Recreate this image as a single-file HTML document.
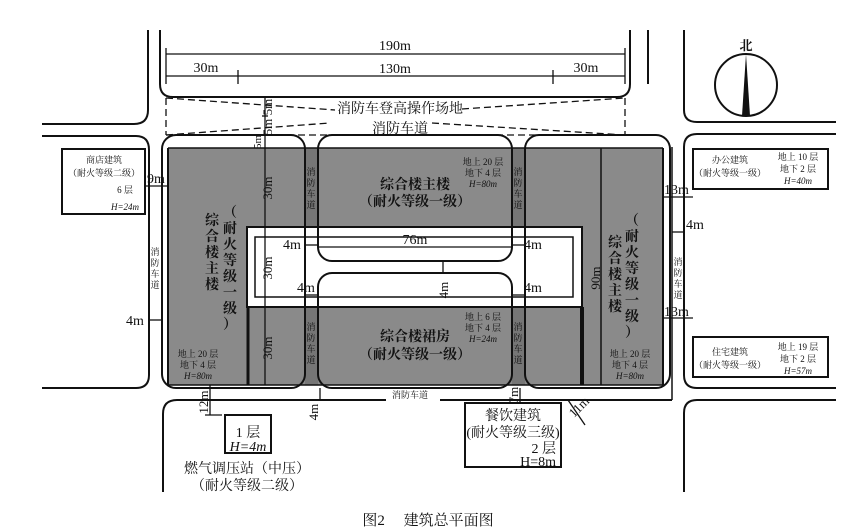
<!DOCTYPE html>
<html><head><meta charset="utf-8"><style>
html,body{margin:0;padding:0;background:#fff}
svg{display:block}
text{font-family:"Liberation Serif","Noto Serif CJK SC","Noto Sans CJK SC",serif;fill:#111}
.s{font-family:"Liberation Sans","Noto Sans CJK SC",sans-serif}
</style></head><body>
<svg width="856" height="528" viewBox="0 0 856 528" xmlns="http://www.w3.org/2000/svg">
<g fill="none" stroke="#111" stroke-width="2">
<path d="M148 30 V110 Q148 124 134 124 H42"/>
<path d="M42 136 H136 Q149 136 149 150 V375 Q149 388 136 388 H42"/>
<path d="M160 30 V84 Q160 97 173 97 H617 Q630 97 630 84 V30"/>
<path d="M648 30 V84"/>
<path d="M684 30 V110 Q684 122 697 122 H836"/>
<path d="M836 134 H697 Q684 134 684 147 V375 Q684 388 697 388 H836"/>
<path d="M836 400 H697 Q684 400 684 413 V492"/>
<path d="M163 492 V414 Q163 400 177 400 H386"/>
<path d="M440 400 H672"/>
<path d="M672 147 V400" stroke-width="1.5"/>
</g>
<rect x="168" y="148" width="495" height="237" fill="#8a8a8a"/>
<rect x="305" y="148" width="13" height="237" fill="#767676"/>
<rect x="512" y="148" width="13" height="237" fill="#767676"/>
<rect x="247" y="227" width="335" height="80" fill="#fff" stroke="#111" stroke-width="2"/>
<rect x="255" y="237" width="318" height="60" fill="#fff" stroke="#111" stroke-width="1.5"/>
<g fill="none" stroke="#111" stroke-width="2">
<rect x="162" y="135" width="143" height="253" rx="14"/>
<rect x="318" y="135" width="194" height="126" rx="14"/>
<rect x="318" y="273" width="194" height="115" rx="14"/>
<rect x="525" y="135" width="145" height="253" rx="14"/>
<line x1="168" y1="148" x2="663" y2="148" stroke-width="1.5"/>
<line x1="168" y1="385" x2="663" y2="385" stroke-width="1.5"/>
<line x1="601" y1="148" x2="601" y2="385" stroke-width="1.5"/>
<line x1="582" y1="307" x2="582" y2="385" stroke-width="4"/>
<line x1="248" y1="307" x2="248" y2="385" stroke-width="3"/>
<line x1="168" y1="148" x2="168" y2="385"/>
<line x1="663" y1="148" x2="663" y2="385"/>
</g>
<g stroke="#111" stroke-width="1.3" fill="none">
<line x1="166" y1="54" x2="625" y2="54"/>
<line x1="166" y1="76" x2="625" y2="76"/>
<line x1="166" y1="48" x2="166" y2="84"/><line x1="625" y1="48" x2="625" y2="84"/>
<line x1="238" y1="70" x2="238" y2="84"/><line x1="553" y1="70" x2="553" y2="84"/>
<g stroke-dasharray="7,4">
<line x1="166" y1="98" x2="166" y2="135"/><line x1="625" y1="98" x2="625" y2="135"/>
<polyline points="166,98 335,110"/><polyline points="462,109 625,98"/>
<polyline points="166,135 330,123"/><polyline points="432,123 625,135"/>
<line x1="166" y1="135" x2="625" y2="135"/>
</g>
<line x1="265" y1="97" x2="265" y2="385"/>
<line x1="262" y1="116" x2="268" y2="116"/>
<line x1="168" y1="186" x2="145" y2="186"/>
<line x1="150" y1="320" x2="162" y2="320"/>
<line x1="210" y1="385" x2="210" y2="415"/><line x1="205" y1="415" x2="222" y2="415"/>
<line x1="320" y1="388" x2="320" y2="400"/>
<line x1="520" y1="388" x2="520" y2="403"/>
<line x1="663" y1="197" x2="693" y2="197"/>
<line x1="663" y1="318" x2="693" y2="318"/>
<line x1="672" y1="232" x2="684" y2="232"/>
<line x1="318" y1="247" x2="512" y2="247"/>
<line x1="305" y1="245" x2="318" y2="245"/>
<line x1="512" y1="245" x2="525" y2="245"/>
<line x1="305" y1="295" x2="318" y2="295"/>
<line x1="512" y1="295" x2="525" y2="295"/>
<line x1="443" y1="261" x2="443" y2="273"/>
<line x1="568" y1="400" x2="585" y2="425"/>
</g>
<circle cx="746" cy="85" r="31" fill="#fff" stroke="#111" stroke-width="2"/>
<polygon points="746,54 742,116 750,116" fill="#111"/>
<text x="746" y="50" font-size="13" text-anchor="middle" font-weight="bold">北</text>
<g fill="#fff" stroke="#111" stroke-width="2">
<rect x="62" y="149" width="83" height="65"/>
<rect x="693" y="149" width="135" height="40"/>
<rect x="693" y="337" width="135" height="40"/>
<rect x="225" y="415" width="46" height="38"/>
<rect x="465" y="403" width="96" height="64"/>
</g>
<g font-size="14">
<text x="395" y="50" text-anchor="middle">190m</text>
<text x="206" y="72" text-anchor="middle">30m</text>
<text x="395" y="73" text-anchor="middle">130m</text>
<text x="586" y="72" text-anchor="middle">30m</text>
<text x="400" y="113" text-anchor="middle">消防车登高操作场地</text>
<text x="400" y="133" text-anchor="middle">消防车道</text>
<text x="147" y="183">9m</text>
<text x="126" y="325">4m</text>
<text x="283" y="249">4m</text>
<text x="524" y="249">4m</text>
<text x="297" y="292">4m</text>
<text x="524" y="292">4m</text>
<text x="415" y="244" text-anchor="middle">76m</text>
<text x="664" y="194">13m</text>
<text x="686" y="229">4m</text>
<text x="664" y="316">13m</text>
<text x="415" y="189" text-anchor="middle" font-weight="bold">综合楼主楼</text>
<text x="415" y="206" text-anchor="middle" font-weight="bold">（耐火等级一级）</text>
<text x="415" y="341" text-anchor="middle" font-weight="bold">综合楼裙房</text>
<text x="415" y="359" text-anchor="middle" font-weight="bold">（耐火等级一级）</text>
<text x="248" y="437" text-anchor="middle">1 层</text>
<text x="248" y="451" text-anchor="middle" font-style="italic">H=4m</text>
<text x="247" y="473" text-anchor="middle">燃气调压站（中压）</text>
<text x="247" y="490" text-anchor="middle">（耐火等级二级）</text>
<text x="513" y="420" text-anchor="middle">餐饮建筑</text>
<text x="513" y="437" text-anchor="middle">(耐火等级三级)</text>
<text x="556" y="453" text-anchor="end">2 层</text>
<text x="556" y="466" text-anchor="end">H=8m</text>
<text x="428" y="525" text-anchor="middle" font-size="15">图2　 建筑总平面图</text>
</g>
<g font-size="14" font-weight="bold" text-anchor="middle">
<text x="212" y="225">综</text><text x="212" y="241">合</text><text x="212" y="257">楼</text><text x="212" y="273">主</text><text x="212" y="289">楼</text>
<text x="230" y="217">（</text><text x="230" y="233">耐</text><text x="230" y="249">火</text><text x="230" y="265">等</text><text x="230" y="281">级</text><text x="230" y="297">一</text><text x="230" y="313">级</text><text x="230" y="329">）</text>
<text x="615" y="247">综</text><text x="615" y="263">合</text><text x="615" y="279">楼</text><text x="615" y="295">主</text><text x="615" y="311">楼</text>
<text x="632" y="225">（</text><text x="632" y="241">耐</text><text x="632" y="257">火</text><text x="632" y="273">等</text><text x="632" y="289">级</text><text x="632" y="305">一</text><text x="632" y="321">级</text><text x="632" y="337">）</text>
</g>
<g font-size="9" text-anchor="middle" class="s">
<text x="104" y="163">商店建筑</text><text x="104" y="176">（耐火等级二级）</text><text x="125" y="193">6 层</text><text x="125" y="210" font-style="italic">H=24m</text>
<text x="730" y="163">办公建筑</text><text x="730" y="176">（耐火等级一级）</text>
<text x="798" y="160">地上 10 层</text><text x="798" y="172">地下 2 层</text><text x="798" y="184" font-style="italic">H=40m</text>
<text x="730" y="355">住宅建筑</text><text x="730" y="368">（耐火等级一级）</text>
<text x="798" y="350">地上 19 层</text><text x="798" y="362">地下 2 层</text><text x="798" y="374" font-style="italic">H=57m</text>
<text x="198" y="357">地上 20 层</text><text x="198" y="368">地下 4 层</text><text x="198" y="379" font-style="italic">H=80m</text>
<text x="483" y="165">地上 20 层</text><text x="483" y="176">地下 4 层</text><text x="483" y="187" font-style="italic">H=80m</text>
<text x="483" y="320">地上 6 层</text><text x="483" y="331">地下 4 层</text><text x="483" y="342" font-style="italic">H=24m</text>
<text x="630" y="357">地上 20 层</text><text x="630" y="368">地下 4 层</text><text x="630" y="379" font-style="italic">H=80m</text>
<text x="410" y="398">消防车道</text>
<text x="155" y="255">消</text><text x="155" y="266">防</text><text x="155" y="277">车</text><text x="155" y="288">道</text>
<text x="678" y="265">消</text><text x="678" y="276">防</text><text x="678" y="287">车</text><text x="678" y="298">道</text>
<text x="311" y="175">消</text><text x="311" y="186">防</text><text x="311" y="197">车</text><text x="311" y="208">道</text>
<text x="518" y="175">消</text><text x="518" y="186">防</text><text x="518" y="197">车</text><text x="518" y="208">道</text>
<text x="311" y="330">消</text><text x="311" y="341">防</text><text x="311" y="352">车</text><text x="311" y="363">道</text>
<text x="518" y="330">消</text><text x="518" y="341">防</text><text x="518" y="352">车</text><text x="518" y="363">道</text>
</g>
<g font-size="13" text-anchor="middle">
<text transform="translate(272,107) rotate(-90)">5m</text>
<text transform="translate(272,127) rotate(-90)">5m</text>
<text transform="translate(261,142) rotate(-90)" font-size="11">5m</text>
<text transform="translate(272,188) rotate(-90)">30m</text>
<text transform="translate(272,268) rotate(-90)">30m</text>
<text transform="translate(272,348) rotate(-90)">30m</text>
<text transform="translate(448,290) rotate(-90)">4m</text>
<text transform="translate(600,278) rotate(-90)">90m</text>
<text transform="translate(208,402) rotate(-90)">12m</text>
<text transform="translate(318,412) rotate(-90)">4m</text>
<text transform="translate(518,395) rotate(-90)">7m</text>
<text transform="translate(582,410) rotate(-45)">11m</text>
</g>
</svg>
</body></html>
